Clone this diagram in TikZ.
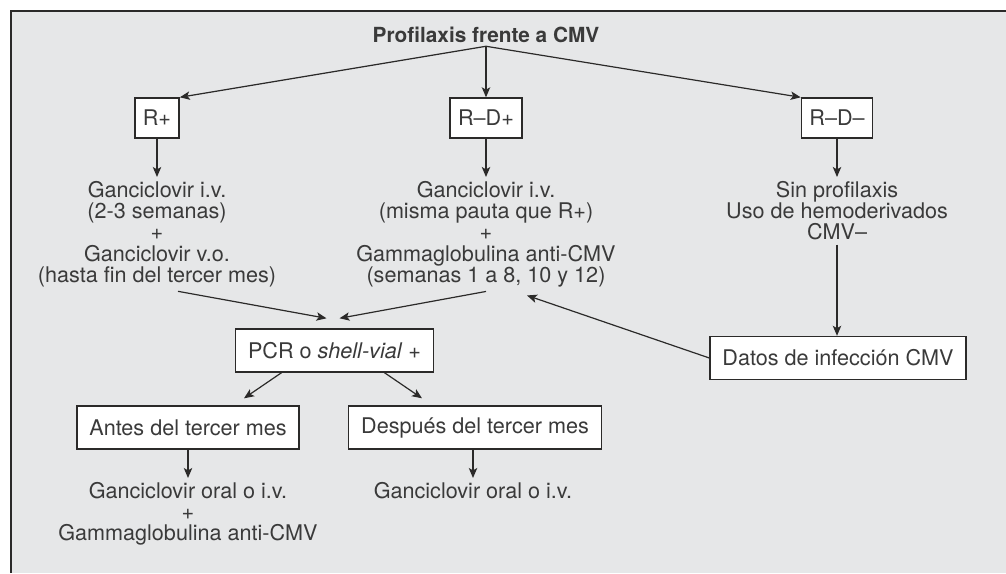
\documentclass[tikz,border=0pt]{standalone}
\usepackage{fontspec}
\setmainfont{TeX Gyre Heros}
\usetikzlibrary{arrows.meta,calc}
\definecolor{fondo}{HTML}{E6E7E8}
\definecolor{trazo}{HTML}{2B2A29}
\definecolor{letra}{HTML}{3A3A3A}
\tikzset{
  caja/.style={draw=trazo, fill=white, line width=0.7pt, inner xsep=6.2pt, minimum height=21.5pt, text=letra},
  cajita/.style={caja, inner xsep=4pt, minimum height=20pt},
  texto/.style={align=center, text=letra, inner sep=2pt, anchor=north},
  flecha/.style={-{Stealth[length=5pt,width=4.2pt,inset=1.2pt]}, draw=trazo, line width=0.6pt}
}
\begin{document}
\begin{tikzpicture}[x=0.5pt,y=-0.5pt,font=\fontsize{10.8}{10.6}\selectfont]
      \useasboundingbox (0,0) rectangle (1006,573);
      \fill[fondo] (11,11) rectangle (1006,573);
      \draw[trazo,line width=0.7pt] (11,573) -- (11,11) -- (1006,11);
      \draw
        (486,35) node[text=letra,inner sep=1.5pt,font=\fontsize{10.4}{12}\selectfont\bfseries] (titulo){Profilaxis frente a CMV}
        (157,118) node[cajita] (rmas){R+}
        (486,118) node[cajita] (rdmas){R--D+}
        (837,118) node[cajita] (rdmenos){R--D--}
        (157,177) node[texto] (rmastxt){Ganciclovir i.v.\\(2-3 semanas)\\+\\Ganciclovir v.o.\\(hasta fin del tercer mes)}
        (486,177) node[texto] (rdmastxt){Ganciclovir i.v.\\(misma pauta que R+)\\+\\Gammaglobulina anti-CMV\\(semanas 1 a 8, 10 y 12)}
        (837,177) node[texto] (rdmenostxt){Sin profilaxis\\Uso de hemoderivados\\CMV--}
        (838,358) node[caja] (datos){Datos de infección CMV}
        (334.5,350.5) node[caja] (pcr){PCR o \textit{shell-vial} +}
        (188,427.5) node[caja] (antes){Antes del tercer mes}
        (475,427.5) node[caja] (despues){Después del tercer mes}
        (188,478) node[texto] (antestxt){Ganciclovir oral o i.v.\\+\\Gammaglobulina anti-CMV}
        (473,478) node[texto] (despuestxt){Ganciclovir oral o i.v.};
      \begin{scope}[flecha]
        \draw (titulo.south) to (rmas.north east);
        \draw (titulo.south) to (rdmas.north);
        \draw (titulo.south) to (rdmenos.north west);
        \draw (rmas) to (rmastxt);
        \draw (rdmas) to (rdmastxt);
        \draw (rdmenos) to (rdmenostxt);
        \draw (rdmenostxt.south) to (rdmenostxt.south |- datos.north);
        \draw (datos.west) to ($(rdmastxt.south)+(41,4)$);
        \draw ($(rmastxt.south)+(21,0)$) to ($(pcr.north)+(-8,-10)$);
        \draw (rdmastxt.south) to ($(pcr.north)+(5,-10)$);
        \draw ($(pcr.south)+(-53,0)$) to ($(antes.north)+(56,-7)$);
        \draw ($(pcr.south)+(50,0)$) to ($(despues.north)+(-53,-7)$);
        \draw (antes) to (antestxt);
        \draw (despuestxt.north |- despues.south) to (despuestxt);
      \end{scope}
    \end{tikzpicture}
\end{document}
